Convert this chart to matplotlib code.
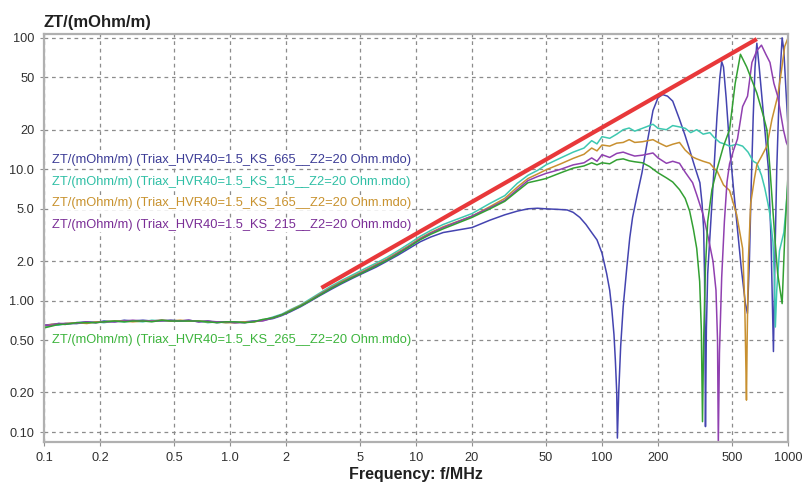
import matplotlib
matplotlib.use("Agg")
import matplotlib.pyplot as plt

plt.rcParams["font.family"] = ["Liberation Sans", "DejaVu Sans"]

# ------------------------------------------------------------------ data
# shared low-frequency grid (MHz)
f_low = [0.10, 0.11, 0.12, 0.13, 0.15, 0.17, 0.19, 0.21, 0.24, 0.27, 0.30, 0.34,
         0.38, 0.43, 0.48, 0.54, 0.60, 0.68, 0.76, 0.85, 0.95, 1.06, 1.2, 1.35,
         1.5, 1.7, 1.9, 2.1, 2.4, 2.7, 3.0, 3.5, 4.0, 4.6, 5.3, 6.1, 7.0, 8.0,
         9.2, 10.5, 12, 14]

zt_low_665 = [0.65, 0.66, 0.67, 0.66, 0.68, 0.69, 0.68, 0.70, 0.69, 0.71, 0.70, 0.71,
              0.70, 0.71, 0.70, 0.70, 0.71, 0.69, 0.70, 0.68, 0.69, 0.68, 0.69, 0.70,
              0.71, 0.73, 0.77, 0.82, 0.90, 0.99, 1.08, 1.22, 1.35, 1.49, 1.64, 1.80,
              2.00, 2.22, 2.50, 2.80, 3.05, 3.30]
zt_low_115 = [0.63, 0.65, 0.65, 0.67, 0.67, 0.68, 0.69, 0.68, 0.70, 0.69, 0.70, 0.69,
              0.71, 0.70, 0.71, 0.70, 0.70, 0.70, 0.68, 0.69, 0.68, 0.69, 0.68, 0.70,
              0.71, 0.75, 0.79, 0.85, 0.93, 1.03, 1.13, 1.29, 1.43, 1.58, 1.75, 1.93,
              2.14, 2.40, 2.72, 3.08, 3.42, 3.80]
zt_low_165 = [0.64, 0.66, 0.66, 0.67, 0.68, 0.67, 0.69, 0.69, 0.70, 0.70, 0.69, 0.70,
              0.70, 0.71, 0.70, 0.71, 0.70, 0.70, 0.69, 0.69, 0.68, 0.68, 0.69, 0.69,
              0.71, 0.74, 0.78, 0.84, 0.92, 1.01, 1.11, 1.26, 1.40, 1.54, 1.70, 1.88,
              2.08, 2.33, 2.63, 2.98, 3.30, 3.65]
zt_low_215 = [0.65, 0.65, 0.67, 0.67, 0.67, 0.69, 0.68, 0.69, 0.69, 0.70, 0.71, 0.70,
              0.70, 0.70, 0.71, 0.70, 0.71, 0.69, 0.70, 0.69, 0.69, 0.68, 0.68, 0.70,
              0.70, 0.74, 0.78, 0.83, 0.91, 1.00, 1.10, 1.25, 1.38, 1.52, 1.68, 1.86,
              2.05, 2.30, 2.60, 2.94, 3.26, 3.60]
zt_low_265 = [0.62, 0.64, 0.66, 0.66, 0.68, 0.68, 0.68, 0.69, 0.70, 0.69, 0.70, 0.70,
              0.69, 0.71, 0.70, 0.70, 0.70, 0.70, 0.69, 0.68, 0.69, 0.69, 0.68, 0.69,
              0.72, 0.74, 0.78, 0.83, 0.91, 1.00, 1.09, 1.24, 1.37, 1.51, 1.66, 1.84,
              2.03, 2.27, 2.57, 2.90, 3.20, 3.52]

# high-frequency parts per curve
f_hi_665 = [20, 25, 30, 35, 40, 45, 50, 58, 65, 70, 76, 82, 88, 94, 100, 106, 110,
            113, 116, 118, 120, 121, 123, 126, 130, 136, 141, 146, 155, 164, 175, 188,
            200, 212, 225, 240, 261, 280, 296, 315, 336, 345, 352, 356, 360, 364, 370,
            380, 400, 415, 430, 440, 450, 465, 485, 510, 530, 560, 590, 605, 620, 635,
            650, 665, 680, 700, 740, 785, 810, 835, 850, 870, 900, 930, 950, 975, 1000]
zt_hi_665 = [3.6, 4.1, 4.5, 4.8, 5.0, 5.05, 5.0, 4.95, 4.9, 4.7, 4.3, 3.8, 3.3, 2.9,
             2.3, 1.6, 1.2, 0.85, 0.55, 0.35, 0.2, 0.09, 0.2, 0.45, 0.9, 1.8, 3.0, 4.3,
             6.5, 9.4, 16, 28, 35, 37, 36, 33, 24, 18, 14, 10.5, 7.9, 5.5, 3.5, 1.5,
             0.11, 0.6, 1.6, 3.0, 10, 25, 50, 66, 60, 35, 15, 7, 4, 1.8, 0.95, 0.8, 2,
             8, 25, 60, 91, 60, 25, 10, 3, 0.41, 2, 10, 45, 100, 80, 40, 21]

f_hi_115 = [20, 25, 30, 35, 40, 45, 50, 60, 70, 80, 88, 94, 100, 110, 120, 130, 140,
            150, 165, 188, 200, 222, 240, 261, 280, 300, 323, 350, 380, 400, 430, 460,
            485, 530, 570, 610, 650, 680, 720, 750, 780, 800, 830, 845, 855, 870, 900,
            950, 975, 1000]
zt_hi_115 = [4.6, 5.5, 6.3, 7.8, 9.0, 9.8, 10.8, 12.2, 13.5, 14.5, 16.5, 15.6, 17.7,
             17.2, 18.5, 20.0, 20.6, 19.5, 20.5, 22.0, 20.5, 20.0, 21.5, 21.0, 20.5,
             19.0, 20.0, 18.5, 19.0, 17.5, 16.0, 15.5, 15.0, 15.5, 15.0, 13.5, 11.5,
             11.1, 9.0, 7.2, 5.5, 4.5, 2.8, 1.5, 0.63, 1.2, 2.4, 3.3, 5.0, 8.0]

f_hi_165 = [20, 25, 30, 35, 40, 45, 50, 60, 70, 80, 88, 94, 100, 110, 120, 130, 140,
            150, 165, 188, 200, 222, 240, 261, 280, 307, 323, 350, 380, 400, 417, 450,
            485, 530, 570, 585, 592, 598, 603, 612, 630, 660, 680, 720, 770, 820, 880,
            920, 960, 1000]
zt_hi_165 = [4.4, 5.2, 6.0, 7.3, 8.5, 9.2, 9.9, 11.0, 12.1, 13.0, 14.5, 13.8, 15.3,
             15.0, 15.8, 16.0, 16.8, 16.0, 16.2, 16.8, 16.0, 14.9, 15.5, 16.0, 14.0,
             12.4, 12.0, 11.5, 11.1, 10.2, 9.6, 7.6, 6.9, 4.5, 2.5, 1.0, 0.4, 0.175,
             0.5, 2.0, 5.5, 8.5, 10.8, 12.5, 15, 24, 36, 55, 86, 100]

f_hi_215 = [20, 25, 30, 35, 40, 45, 50, 60, 70, 80, 88, 94, 100, 110, 120, 130, 140,
            150, 165, 188, 200, 222, 240, 261, 280, 307, 323, 350, 373, 395, 410, 418,
            422, 428, 440, 455, 470, 485, 510, 535, 570, 606, 640, 680, 720, 760, 800,
            840, 880, 945, 980, 1000]
zt_hi_215 = [4.4, 5.1, 5.8, 7.0, 8.2, 8.8, 9.3, 10.0, 10.8, 11.2, 12.2, 11.5, 12.9,
             12.3, 13.2, 13.5, 13.0, 12.6, 12.8, 13.3, 12.2, 11.1, 11.5, 11.1, 9.5, 7.9,
             6.4, 4.5, 3.0, 2.0, 1.2, 0.5, 0.08, 0.4, 1.5, 4.0, 8.0, 11, 14, 17, 30, 36,
             65, 80, 88, 75, 65, 45, 36, 20, 16, 15]

f_hi_265 = [20, 25, 30, 35, 40, 45, 50, 60, 70, 80, 88, 94, 100, 110, 120, 130, 140,
            150, 165, 180, 200, 222, 240, 261, 280, 296, 310, 323, 335, 342, 347, 352,
            360, 370, 390, 415, 450, 485, 520, 555, 600, 680, 740, 770, 800, 850, 880,
            930, 960, 1000]
zt_hi_265 = [4.3, 5.0, 5.7, 6.8, 7.9, 8.2, 8.5, 9.4, 10.2, 10.6, 11.2, 10.8, 11.2,
             11.0, 11.8, 12.0, 11.6, 11.4, 11.2, 10.5, 9.4, 8.6, 8.0, 7.0, 6.0, 4.8,
             3.5, 2.5, 1.4, 0.6, 0.12, 0.5, 1.8, 4.0, 7.0, 10, 15, 20, 45, 75, 60, 38,
             25, 20, 10, 3.0, 1.6, 0.95, 3.0, 9.0]

# red guide line (start / end)
red_f = [3.1, 680]
red_zt = [1.25, 98]

labels = [
    "ZT/(mOhm/m) (Triax_HVR40=1.5_KS_665__Z2=20 Ohm.mdo)",
    "ZT/(mOhm/m) (Triax_HVR40=1.5_KS_115__Z2=20 Ohm.mdo)",
    "ZT/(mOhm/m) (Triax_HVR40=1.5_KS_165__Z2=20 Ohm.mdo)",
    "ZT/(mOhm/m) (Triax_HVR40=1.5_KS_215__Z2=20 Ohm.mdo)",
    "ZT/(mOhm/m) (Triax_HVR40=1.5_KS_265__Z2=20 Ohm.mdo)",
]

x_ticks = [0.1, 0.2, 0.5, 1, 2, 5, 10, 20, 50, 100, 200, 500, 1000]
x_tick_labels = ["0.1", "0.2", "0.5", "1.0", "2", "5", "10", "20", "50", "100",
                 "200", "500", "1000"]
y_ticks = [0.1, 0.2, 0.5, 1, 2, 5, 10, 20, 50, 100]
y_tick_labels = ["0.10", "0.20", "0.50", "1.00", "2.0", "5.0", "10.0", "20", "50", "100"]

series = [
    (zt_low_665, f_hi_665, zt_hi_665, "#4444b0", "#3c3c96"),
    (zt_low_115, f_hi_115, zt_hi_115, "#3ec8b0", "#2fbfa5"),
    (zt_low_165, f_hi_165, zt_hi_165, "#c89030", "#c8922e"),
    (zt_low_215, f_hi_215, zt_hi_215, "#9040b0", "#7a2e96"),
    (zt_low_265, f_hi_265, zt_hi_265, "#33a033", "#3cb43c"),
]

# ------------------------------------------------------------------ chart
W, H = 803, 484
fig = plt.figure(figsize=(W / 100, H / 100), dpi=100)
ax = fig.add_axes([44 / W, 1 - 442 / H, (788 - 44) / W, (442 - 34) / H])
ax.set_xscale("log")
ax.set_yscale("log")

for zt_low, f_hi, zt_hi, color, _ in series:
    ax.plot(f_low + f_hi, zt_low + zt_hi, color=color, lw=1.1)

ax.plot(red_f, red_zt, color="#e8383a", lw=3.0, solid_capstyle="butt")

ax.set_xlim(0.1, 1000)
ax.set_ylim(0.084, 107)
ax.set_xticks(x_ticks)
ax.set_xticklabels(x_tick_labels)
ax.set_yticks(y_ticks)
ax.set_yticklabels(y_tick_labels)
ax.minorticks_off()
ax.tick_params(length=3, color="#909090", labelsize=9.2, labelcolor="#303030", pad=4)
ax.grid(True, which="major", color="#8c8c8c", linestyle=(0, (3, 3)), linewidth=0.9)
for sp in ax.spines.values():
    sp.set_color("#b0b0b0")
    sp.set_linewidth(1.6)

# curve labels inside the plot (drawn over the grid on a white ground)
label_y = [160, 182, 203, 225, 340]
for (_, _, _, _, tcolor), lab, ly in zip(series, labels, label_y):
    fig.text(52 / W, 1 - ly / H, lab, color=tcolor, fontsize=9.3, va="center", ha="left",
             bbox=dict(facecolor="white", edgecolor="none", pad=0.5))

fig.text(44 / W, 1 - 23 / H, "ZT/(mOhm/m)", fontsize=12, fontweight="bold",
         color="#202020", va="center", ha="left")
fig.text(416 / W, 1 - 475 / H, "Frequency: f/MHz", fontsize=11.5, fontweight="bold",
         color="#202020", va="center", ha="center")

fig.savefig("out.png", dpi=100)
